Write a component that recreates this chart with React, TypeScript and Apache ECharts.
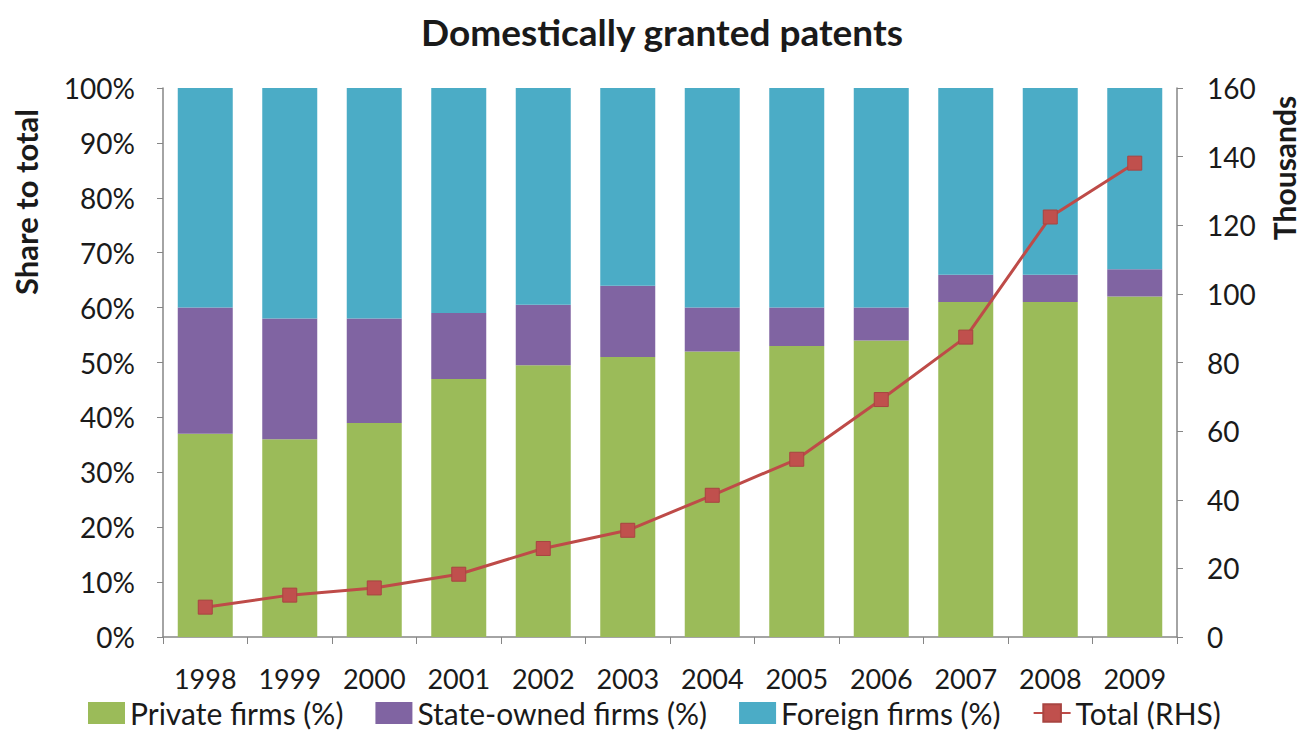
import React, { useEffect, useRef } from "react";
import * as echarts from "echarts";

const years = ["1998", "1999", "2000", "2001", "2002", "2003", "2004", "2005", "2006", "2007", "2008", "2009"];
const privateFirms = [37, 36, 39, 47, 49.5, 51, 52, 53, 54, 61, 61, 62];
const stateOwned = [23, 22, 19, 12, 11, 13, 8, 7, 6, 5, 5, 5];
const foreignFirms = [40, 42, 42, 41, 39.5, 36, 40, 40, 40, 34, 34, 33];
const totalThousands = [8.7, 12.2, 14.3, 18.3, 25.8, 31.1, 41.3, 51.8, 69.2, 87.4, 122.4, 138.1];

const FONT = "Lato, 'Open Sans', sans-serif";
const AXIS_COLOR = "#868686";
const TEXT_COLOR = "#1a1a1a";

export default function App() {
  const ref = useRef<HTMLDivElement>(null);
  useEffect(() => {
    document.body.style.margin = "0";
    if (!ref.current) return;
    const chart = echarts.init(ref.current, undefined, { renderer: "svg" });
    chart.setOption({
      animation: false,
      backgroundColor: "#ffffff",
      textStyle: { fontFamily: FONT },
      title: {
        text: "Domestically granted patents",
        left: 416,
        top: 8,
        textStyle: { fontFamily: FONT, fontWeight: "bold", fontSize: 37, color: TEXT_COLOR },
      },
      graphic: [
        {
          type: "text",
          x: 26,
          y: 202,
          rotation: Math.PI / 2,
          style: {
            text: "Share to total",
            font: `bold 31px ${FONT}`,
            fill: TEXT_COLOR,
            textAlign: "center",
            textVerticalAlign: "middle",
          },
        },
        {
          type: "text",
          x: 1284,
          y: 168,
          rotation: Math.PI / 2,
          style: {
            text: "Thousands",
            font: `bold 30px ${FONT}`,
            fill: TEXT_COLOR,
            textAlign: "center",
            textVerticalAlign: "middle",
          },
        },
      ],
      legend: {
        top: 693,
        left: 83,
        itemGap: 32,
        itemWidth: 37,
        itemHeight: 22,
        textStyle: { fontFamily: FONT, fontSize: 30, color: TEXT_COLOR },
        data: [
          { name: "Private firms (%)", icon: "rect" },
          { name: "State-owned firms (%)", icon: "rect" },
          { name: "Foreign firms (%)", icon: "rect" },
          { name: "Total (RHS)" },
        ],
      },
      grid: { left: 163, right: 124, top: 88, bottom: 119, containLabel: false },
      xAxis: {
        type: "category",
        data: years,
        axisLine: { lineStyle: { color: AXIS_COLOR, width: 1.5 } },
        axisTick: { show: true, length: 7, lineStyle: { color: AXIS_COLOR } },
        axisLabel: { fontFamily: FONT, fontSize: 27, color: TEXT_COLOR, margin: 28, interval: 0 },
      },
      yAxis: [
        {
          type: "value",
          min: 0,
          max: 100,
          interval: 10,
          axisLine: { show: true, lineStyle: { color: AXIS_COLOR, width: 1.5 } },
          axisTick: { show: true, length: 6, lineStyle: { color: AXIS_COLOR } },
          splitLine: { show: false },
          axisLabel: { fontFamily: FONT, fontSize: 28, color: TEXT_COLOR, margin: 28, formatter: "{value}%" },
        },
        {
          type: "value",
          min: 0,
          max: 160,
          interval: 20,
          position: "right",
          axisLine: { show: true, lineStyle: { color: AXIS_COLOR, width: 1.5 } },
          axisTick: { show: true, length: 6, lineStyle: { color: AXIS_COLOR } },
          splitLine: { show: false },
          axisLabel: { fontFamily: FONT, fontSize: 28, color: TEXT_COLOR, margin: 30 },
        },
      ],
      series: [
        {
          name: "Private firms (%)",
          type: "bar",
          stack: "share",
          data: privateFirms,
          barWidth: 55,
          itemStyle: { color: "#9BBB59" },
        },
        {
          name: "State-owned firms (%)",
          type: "bar",
          stack: "share",
          data: stateOwned,
          barWidth: 55,
          itemStyle: { color: "#8064A2" },
        },
        {
          name: "Foreign firms (%)",
          type: "bar",
          stack: "share",
          data: foreignFirms,
          barWidth: 55,
          itemStyle: { color: "#4BACC6" },
        },
        {
          name: "Total (RHS)",
          type: "line",
          yAxisIndex: 1,
          data: totalThousands,
          symbol: "rect",
          symbolSize: 14,
          lineStyle: { color: "#BE4B48", width: 3 },
          itemStyle: { color: "#C0504D", borderColor: "#A84441", borderWidth: 1 },
        },
      ],
    });
    return () => chart.dispose();
  }, []);
  return <div ref={ref} style={{ width: 1301, height: 756 }} />;
}
